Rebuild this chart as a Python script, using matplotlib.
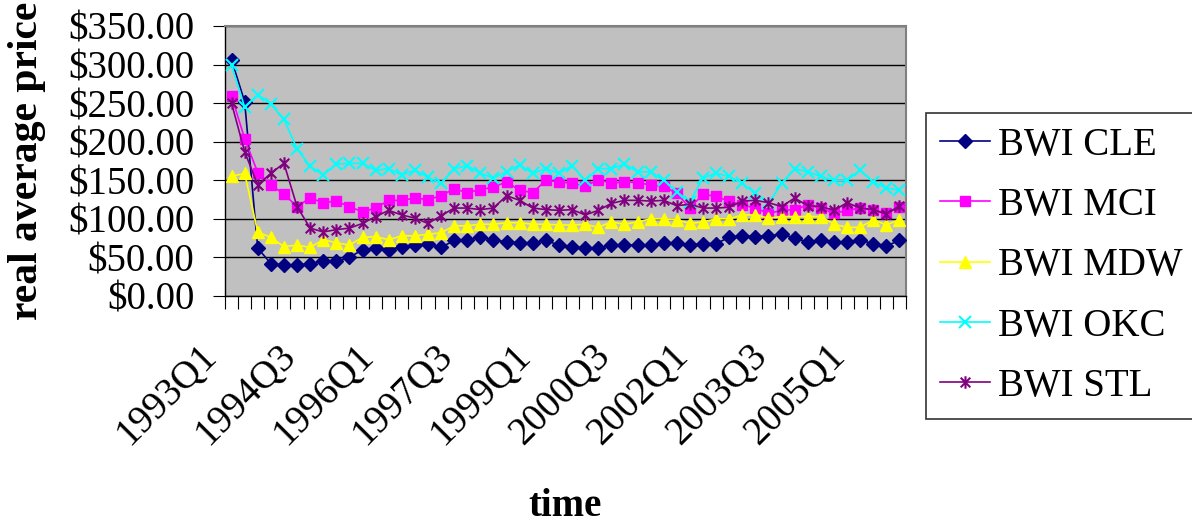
import numpy as np
import matplotlib
matplotlib.use("Agg")
import matplotlib.pyplot as plt
import matplotlib.transforms as mtransforms
from matplotlib.path import Path

# quarters 1993Q1 .. 2005Q4
quarters = ["%dQ%d" % (y, q) for y in range(1993, 2006) for q in range(1, 5)]

bwi_cle = [306, 252, 62, 42, 40, 40, 42, 45, 45, 50, 60, 62, 60, 64, 66, 67, 63, 72, 73, 76,
           73, 70, 69, 69, 72, 66, 64, 62, 62, 66, 66, 66, 66, 69, 69, 66, 68, 68, 76, 78,
           77, 78, 80, 75, 70, 73, 70, 70, 72, 68, 65, 72]
bwi_mci = [259, 204, 160, 144, 132, 116, 127, 121, 123, 116, 109, 114, 124, 124, 127, 125, 130, 139, 134, 138,
           141, 148, 137, 134, 150, 148, 146, 142, 151, 146, 148, 147, 144, 142, 133, 114, 132, 129, 123, 118,
           114, 107, 111, 112, 118, 114, 107, 111, 114, 111, 108, 115]
bwi_mdw = [155, 159, 83, 76, 64, 66, 63, 73, 69, 66, 76, 77, 73, 78, 78, 80, 82, 91, 91, 93,
           93, 95, 95, 93, 93, 92, 92, 93, 89, 96, 93, 96, 100, 100, 99, 94, 96, 100, 100, 105,
           105, 101, 103, 103, 103, 103, 93, 89, 89, 99, 92, 99]
bwi_okc = [299, 245, 261, 249, 229, 191, 168, 157, 171, 172, 172, 163, 165, 157, 163, 154, 146, 165, 169, 159,
           153, 161, 170, 159, 165, 159, 169, 150, 165, 165, 171, 161, 161, 150, 135, 122, 153, 159, 155, 146,
           133, 120, 146, 165, 161, 155, 150, 150, 163, 148, 140, 137]
bwi_stl = [250, 187, 144, 159, 172, 116, 88, 83, 86, 88, 94, 103, 111, 105, 101, 94, 104, 114, 114, 112,
           114, 130, 124, 114, 112, 111, 112, 105, 111, 120, 124, 124, 123, 124, 117, 119, 114, 114, 115, 123,
           124, 121, 116, 127, 117, 116, 111, 121, 114, 112, 106, 117]

# asterisk marker: an x with a vertical stroke through it
star = Path([(-1, -1), (1, 1), (-1, 1), (1, -1), (0, -1.3), (0, 1.3)],
            [Path.MOVETO, Path.LINETO, Path.MOVETO, Path.LINETO, Path.MOVETO, Path.LINETO])

series = [
    ("BWI CLE", bwi_cle, "#000080", "D", 7),
    ("BWI MCI", bwi_mci, "#FF00FF", "s", 7),
    ("BWI MDW", bwi_mdw, "#FFFF00", "^", 8),
    ("BWI OKC", bwi_okc, "#00FFFF", "x", 8),
    ("BWI STL", bwi_stl, "#800080", star, 9),
]

plt.rcParams["font.family"] = ["Liberation Serif", "DejaVu Serif"]

fig = plt.figure(figsize=(11.92, 5.29), dpi=100)
ax = fig.add_axes([225 / 1192, 1 - 296 / 529, 681 / 1192, 270 / 529])
ax.set_facecolor("#C0C0C0")

x = np.arange(len(quarters))
for name, vals, col, mk, ms in series:
    if mk == "x" or isinstance(mk, Path):
        ax.plot(x, vals, color=col, lw=1.2, marker=mk, ms=ms, mew=1.5,
                mfc="none", label=name, zorder=3)
    else:
        ax.plot(x, vals, color=col, lw=1.2, marker=mk, ms=ms, mec=col,
                mfc=col, label=name, zorder=3)

ax.set_xlim(-0.5, len(quarters) - 0.5)
ax.set_ylim(0, 350)
ax.set_yticks(np.arange(0, 351, 50))
ax.set_yticklabels(["$%d.00" % v for v in range(0, 351, 50)])
ax.yaxis.grid(True, color="black", lw=1)
ax.set_axisbelow(True)

# boundary ticks between quarters, labels every six quarters
ax.set_xticks(np.arange(-0.5, len(quarters)), labels=[])
ax.set_xticks(x[::6], labels=[quarters[i] for i in x[::6]], minor=True)
ax.tick_params(axis="x", which="major", direction="out", length=9, width=0.8, color="black")
ax.tick_params(axis="x", which="minor", length=0, pad=39, labelsize=28)
shift = mtransforms.ScaledTranslation(-0.2, 0, fig.dpi_scale_trans)
for lbl in ax.get_xticklabels(minor=True):
    lbl.set_rotation(45)
    lbl.set_ha("right")
    lbl.set_va("center")
    lbl.set_rotation_mode("anchor")
    lbl.set_transform(lbl.get_transform() + shift)
ax.tick_params(axis="y", direction="out", length=9, width=0.8, pad=13, labelsize=28)

for s in ("top", "right"):
    ax.spines[s].set_color("#808080")
    ax.spines[s].set_linewidth(1.5)
for s in ("left", "bottom"):
    ax.spines[s].set_color("black")
    ax.spines[s].set_linewidth(1)

ax.set_ylabel("real average price", fontsize=30, fontweight="bold", labelpad=16)
fig.text(565 / 1192, 1 - 507 / 529, "time", fontsize=28, fontweight="bold",
         ha="center", va="center")

leg = fig.legend(loc="upper left", bbox_to_anchor=(926 / 1192, 1 - 113 / 529),
                 fontsize=28, frameon=True, fancybox=False, edgecolor="black",
                 handlelength=1.3, handletextpad=0.2, labelspacing=0.6,
                 borderpad=0.35, borderaxespad=0)
leg.get_frame().set_linewidth(1.2)

fig.savefig("out.png", dpi=100)
